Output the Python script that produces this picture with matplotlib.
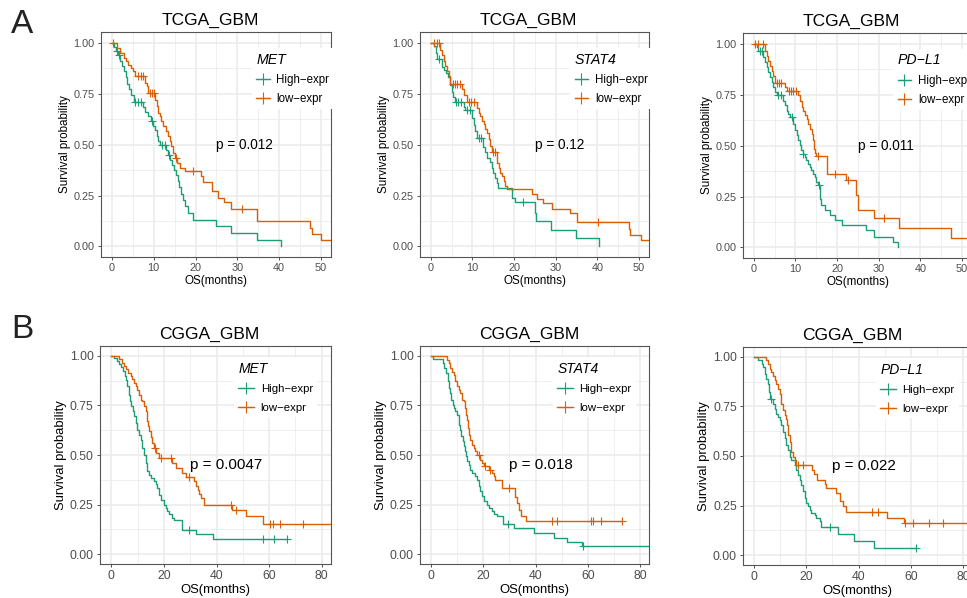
import numpy as np
import matplotlib
matplotlib.use('Agg')
import matplotlib.pyplot as plt
from matplotlib.lines import Line2D

plt.rcParams['font.family'] = ['Liberation Sans', 'DejaVu Sans']

# ---------------- dados ----------------
# TCGA_GBM  MET
tcga_met_hi_t = [0.6, 1.0, 1.4, 2.0, 2.5, 2.9, 3.3, 3.7, 4.1, 4.6, 5.2, 7.4, 8.0, 8.7, 9.3, 9.9, 10.3, 10.7, 11.1, 11.6,
                 13.0, 13.4, 13.8, 14.3, 14.8, 15.3, 15.7, 16.1, 16.6, 17.0, 17.5, 18.2, 19.3, 24.8, 28.6, 34.7, 40.4]
tcga_met_hi_s = [0.98, 0.96, 0.94, 0.91, 0.885, 0.86, 0.835, 0.80, 0.775, 0.745, 0.71, 0.685, 0.66, 0.64, 0.615, 0.59, 0.57, 0.545, 0.52, 0.50,
                 0.475, 0.45, 0.425, 0.40, 0.375, 0.35, 0.32, 0.29, 0.26, 0.23, 0.20, 0.165, 0.132, 0.10, 0.066, 0.033, 0.0]
tcga_met_hi_c = [1.3, 1.7, 5.6, 6.3, 7.0, 9.5, 12.0, 12.6, 13.6]
tcga_met_hi_end = 40.4
tcga_met_lo_t = [1.2, 2.0, 2.8, 3.4, 3.9, 4.5, 5.1, 5.5, 7.9, 8.3, 8.7, 10.3, 10.7, 11.1, 11.5, 11.8, 12.2, 13.0, 13.4, 13.8,
                 14.2, 14.6, 15.0, 15.6, 16.2, 17.4, 21.3, 21.9, 23.9, 25.3, 26.9, 28.4, 34.8, 47.4, 47.8, 50.0]
tcga_met_lo_s = [0.975, 0.951, 0.926, 0.91, 0.894, 0.878, 0.861, 0.837, 0.804, 0.788, 0.755, 0.722, 0.69, 0.657, 0.64, 0.616, 0.59, 0.567, 0.542, 0.518,
                 0.493, 0.461, 0.436, 0.41, 0.387, 0.37, 0.346, 0.319, 0.27, 0.24, 0.216, 0.186, 0.126, 0.093, 0.06, 0.033]
tcga_met_lo_c = [0.3, 6.3, 6.9, 7.5, 9.1, 9.6, 10.1, 15.3, 19.5, 31.0]
tcga_met_lo_end = 60

# TCGA_GBM  STAT4
tcga_stat4_hi_t = [0.7, 1.2, 1.6, 2.8, 3.2, 3.6, 4.2, 4.5, 4.7, 5.0, 5.3, 5.8, 7.9, 8.3, 9.9, 10.3, 10.7, 11.1, 12.6, 13.0,
                   13.4, 14.2, 14.6, 15.0, 15.4, 15.8, 16.2, 19.4, 20.2, 24.9, 25.3, 28.9, 34.8, 40.5]
tcga_stat4_hi_s = [0.984, 0.95, 0.92, 0.884, 0.867, 0.851, 0.835, 0.81, 0.794, 0.761, 0.736, 0.712, 0.687, 0.671, 0.63, 0.597, 0.565, 0.532, 0.49, 0.466,
                   0.434, 0.417, 0.385, 0.36, 0.335, 0.311, 0.286, 0.237, 0.22, 0.164, 0.125, 0.082, 0.041, 0.0]
tcga_stat4_hi_c = [2.0, 6.0, 6.6, 7.2, 8.7, 9.3, 11.6, 12.1, 22.1]
tcga_stat4_hi_end = 40.5
tcga_stat4_lo_t = [2.3, 2.7, 3.1, 3.5, 3.9, 4.3, 4.7, 7.5, 7.9, 8.7, 11.1, 11.5, 11.9, 12.3, 12.7, 13.1, 13.5, 13.9, 14.3, 14.7,
                   15.9, 16.3, 16.7, 17.1, 17.5, 17.9, 18.3, 24.2, 25.4, 27.0, 29.0, 33.5, 35.0, 47.5, 47.9, 50.5]
tcga_stat4_lo_s = [0.967, 0.94, 0.91, 0.886, 0.862, 0.838, 0.80, 0.775, 0.745, 0.71, 0.68, 0.657, 0.64, 0.616, 0.60, 0.575, 0.559, 0.526, 0.493, 0.465,
                   0.412, 0.387, 0.363, 0.346, 0.322, 0.297, 0.284, 0.258, 0.235, 0.212, 0.183, 0.165, 0.12, 0.085, 0.058, 0.03]
tcga_stat4_lo_c = [0.7, 1.4, 1.9, 5.3, 5.8, 6.4, 7.0, 9.2, 9.7, 10.3, 14.9, 15.4, 40.2]
tcga_stat4_lo_end = 60

# TCGA_GBM  PD-L1
tcga_pdl1_hi_t = [0.7, 1.1, 2.3, 2.7, 3.1, 3.5, 3.9, 4.3, 4.7, 5.1, 5.5, 7.1, 7.5, 7.9, 8.3, 8.7, 9.5, 9.9, 10.3, 10.7,
                  11.0, 11.4, 11.8, 12.2, 12.6, 13.0, 13.4, 13.8, 14.2, 14.6, 15.0, 15.4, 16.0, 16.2, 17.0, 18.2, 19.4, 21.2, 26.9, 28.9,
                  33.5, 34.7]
tcga_pdl1_hi_s = [0.984, 0.967, 0.935, 0.91, 0.886, 0.861, 0.837, 0.812, 0.788, 0.763, 0.747, 0.722, 0.698, 0.673, 0.657, 0.641, 0.608, 0.575, 0.551, 0.526,
                  0.502, 0.477, 0.461, 0.444, 0.428, 0.412, 0.395, 0.379, 0.363, 0.346, 0.322, 0.306, 0.24, 0.208, 0.183, 0.158, 0.134, 0.11, 0.085, 0.052,
                  0.028, 0.0]
tcga_pdl1_hi_c = [1.5, 1.9, 5.9, 6.5, 9.1, 11.9, 15.7]
tcga_pdl1_hi_end = 34.7
tcga_pdl1_lo_t = [2.7, 3.1, 3.5, 3.9, 4.3, 4.7, 5.1, 7.5, 7.9, 10.7, 11.1, 11.5, 11.9, 12.3, 12.7, 13.1, 13.5, 13.9, 14.3,
                  14.5, 14.8, 15.0, 17.6, 22.1, 24.6, 25.1, 28.8, 34.8, 47.3]
tcga_pdl1_lo_s = [0.967, 0.943, 0.918, 0.894, 0.869, 0.845, 0.81, 0.79, 0.77, 0.747, 0.722, 0.69, 0.673, 0.649, 0.632, 0.608, 0.583, 0.559, 0.526,
                  0.485, 0.465, 0.45, 0.363, 0.331, 0.257, 0.185, 0.143, 0.095, 0.048]
tcga_pdl1_lo_c = [0.3, 1.1, 2.3, 5.5, 6.0, 6.6, 8.4, 9.0, 9.5, 10.1, 15.3, 19.4, 22.5, 31.2]
tcga_pdl1_lo_end = 60

# CGGA_GBM  MET
cgga_met_hi_t = [1.0, 2.3, 3.0, 3.8, 4.6, 5.2, 5.5, 6.1, 6.7, 7.2, 7.6, 8.1, 8.6, 9.3, 9.9, 10.5, 11.2, 11.8, 12.4, 13.1,
                 13.7, 14.4, 15.0, 16.3, 16.9, 17.5, 18.2, 18.8, 20.1, 20.7, 21.3, 22.0, 23.2, 23.9, 27.0, 32.1, 38.5]
cgga_met_hi_s = [0.988, 0.975, 0.96, 0.945, 0.925, 0.90, 0.879, 0.846, 0.804, 0.775, 0.745, 0.72, 0.695, 0.661, 0.628, 0.602, 0.577, 0.535, 0.502, 0.46,
                 0.418, 0.40, 0.385, 0.37, 0.355, 0.334, 0.30, 0.275, 0.25, 0.233, 0.216, 0.20, 0.183, 0.174, 0.124, 0.099, 0.074]
cgga_met_hi_c = [29.6, 57.5, 62.0, 66.8]
cgga_met_hi_end = 66.8
cgga_met_lo_t = [2.9, 4.2, 4.8, 5.5, 6.3, 7.4, 8.0, 8.6, 9.3, 9.9, 10.5, 11.2, 11.8, 12.4, 13.1, 13.4, 13.7, 14.0, 14.3, 15.0,
                 15.6, 16.3, 16.9, 18.0, 23.2, 24.5, 27.0, 28.5, 31.5, 32.3, 32.8, 33.4, 34.0, 35.3, 46.0, 51.3, 57.7]
cgga_met_lo_s = [0.983, 0.966, 0.949, 0.932, 0.915, 0.898, 0.881, 0.864, 0.847, 0.83, 0.805, 0.78, 0.77, 0.745, 0.72, 0.695, 0.67, 0.645, 0.62, 0.59,
                 0.56, 0.535, 0.51, 0.483, 0.458, 0.433, 0.41, 0.39, 0.367, 0.345, 0.325, 0.305, 0.285, 0.248, 0.223, 0.19, 0.153]
cgga_met_lo_c = [16.6, 18.8, 22.6, 29.6, 45.5, 47.5, 60.5, 61.3, 64.1, 72.7]
cgga_met_lo_end = 90

# CGGA_GBM  STAT4
cgga_stat4_hi_t = [0.5, 4.4, 5.0, 5.6, 6.3, 6.9, 7.3, 7.7, 8.2, 8.8, 9.2, 9.9, 10.5, 10.8, 11.2, 11.5, 12.1, 12.4, 12.8, 13.3,
                   13.8, 14.4, 15.0, 15.6, 16.7, 17.6, 18.2, 18.8, 19.5, 20.1, 21.4, 22.1, 23.3, 24.0, 25.3, 27.5, 31.7, 39.4, 47.1, 52.2,
                   58.0]
cgga_stat4_hi_s = [0.983, 0.963, 0.938, 0.913, 0.871, 0.837, 0.812, 0.779, 0.753, 0.737, 0.72, 0.703, 0.678, 0.653, 0.628, 0.594, 0.569, 0.544, 0.518, 0.493,
                   0.468, 0.451, 0.426, 0.409, 0.393, 0.376, 0.342, 0.317, 0.292, 0.267, 0.25, 0.233, 0.216, 0.20, 0.191, 0.15, 0.13, 0.107, 0.082, 0.062,
                   0.04]
cgga_stat4_hi_c = [29.4, 58.3]
cgga_stat4_hi_end = 90
cgga_stat4_lo_t = [6.2, 6.9, 7.3, 7.9, 8.6, 9.2, 9.9, 10.5, 11.2, 11.8, 12.4, 13.1, 13.3, 13.7, 14.1, 14.4, 15.0, 15.6, 16.3, 16.9,
                   17.6, 18.8, 19.5, 20.1, 22.1, 23.3, 24.0, 24.6, 27.2, 32.3, 33.0, 33.7, 34.4, 36.2]
cgga_stat4_lo_s = [0.98, 0.963, 0.938, 0.921, 0.904, 0.871, 0.846, 0.829, 0.812, 0.779, 0.77, 0.737, 0.703, 0.678, 0.636, 0.602, 0.577, 0.552, 0.535, 0.518,
                   0.502, 0.477, 0.46, 0.443, 0.426, 0.409, 0.393, 0.376, 0.334, 0.29, 0.257, 0.223, 0.19, 0.165]
cgga_stat4_lo_c = [18.2, 20.8, 22.7, 29.7, 46.4, 48.3, 61.4, 62.2, 65.0, 73.3]
cgga_stat4_lo_end = 73.3

# CGGA_GBM  PD-L1
cgga_pdl1_hi_t = [1.5, 2.8, 3.4, 4.1, 4.7, 5.3, 5.6, 6.0, 7.3, 7.9, 8.5, 9.2, 9.8, 10.4, 11.1, 11.7, 12.3, 13.0, 13.6, 14.2,
                  15.5, 16.2, 16.8, 17.4, 18.1, 18.7, 19.3, 20.0, 20.6, 21.2, 21.9, 23.2, 23.8, 25.1, 25.7, 32.1, 38.4, 46.1]
cgga_pdl1_hi_s = [0.982, 0.965, 0.948, 0.915, 0.89, 0.865, 0.823, 0.789, 0.764, 0.739, 0.714, 0.697, 0.681, 0.656, 0.622, 0.589, 0.555, 0.53, 0.497, 0.48,
                  0.455, 0.43, 0.405, 0.38, 0.355, 0.321, 0.288, 0.263, 0.246, 0.229, 0.212, 0.204, 0.187, 0.171, 0.14, 0.104, 0.07, 0.037]
cgga_pdl1_hi_c = [6.6, 28.9, 62.0]
cgga_pdl1_hi_end = 62.0
cgga_pdl1_lo_t = [4.7, 5.3, 6.0, 6.6, 7.3, 7.9, 8.5, 9.2, 9.8, 10.4, 11.1, 11.7, 12.3, 12.7, 13.0, 13.6, 14.2, 14.9, 15.5, 16.2,
                  22.0, 22.8, 24.0, 27.0, 27.4, 31.4, 32.7, 34.0, 35.2, 51.1, 57.5]
cgga_pdl1_lo_s = [0.982, 0.965, 0.94, 0.923, 0.906, 0.881, 0.865, 0.839, 0.814, 0.764, 0.731, 0.706, 0.689, 0.656, 0.605, 0.572, 0.522, 0.497, 0.48, 0.455,
                  0.43, 0.41, 0.38, 0.36, 0.338, 0.313, 0.271, 0.246, 0.215, 0.187, 0.16]
cgga_pdl1_lo_c = [16.6, 18.6, 45.0, 47.6, 57.8, 61.0, 67.0, 72.4]
cgga_pdl1_lo_end = 90

genes = ['MET', 'STAT4', 'PD−L1']
pvals_tcga = ['p = 0.012', 'p = 0.12', 'p = 0.011']
pvals_cgga = ['p = 0.0047', 'p = 0.018', 'p = 0.022']
grupos = ['High−expr', 'low−expr']
cores = ['#1B9E77', '#D95F02']

# ---------------- desenho ----------------
W, H = 967, 598
fig = plt.figure(figsize=(W / 100, H / 100), dpi=100)

def caixa(l, t, w, h):
    return [l / W, 1 - (t + h) / H, w / W, h / H]

def curva(ax, t, s, c, fim, cor):
    xs = np.r_[0, t, fim]
    ys = np.r_[1, s, s[-1]]
    ax.step(xs, ys, where='post', color=cor, lw=1.0, clip_on=True)
    idx = np.searchsorted(np.array(t), np.array(c), side='right') - 1
    yc = np.where(idx >= 0, np.array(s)[np.clip(idx, 0, None)], 1.0)
    ax.plot(c, yc, ls='none', marker='+', ms=6, mew=0.8, color=cor)

def painel(ax, titulo, gene, pval, hi, lo, linha):
    if linha == 'A':
        xl, xt, fs_tick, fs_lab, fs_p, pxy = (-2.6, 52.4), np.arange(0, 51, 10), 7.8, 8.4, 9.8, (25, 0.5)
        ylim = (-0.052, 1.054)
        anc, fs_leg, fs_tit, lsp, hl = (0.63, 0.955), 8.3, 10.2, 0.62, 1.15
    else:
        xl, xt, fs_tick, fs_lab, fs_p, pxy = (-4.3, 83.5), np.arange(0, 81, 20), 8.8, 9.4, 11, (30, 0.45)
        ylim = (-0.05, 1.05)
        anc, fs_leg, fs_tit, lsp, hl = (0.555, 0.975), 8.2, 10, 0.75, 1.35
    ax.set_xlim(xl)
    ax.set_ylim(ylim)
    ax.set_xticks(xt)
    ax.set_xticks(xt[:-1] + (xt[1] - xt[0]) / 2, minor=True)
    yt = np.arange(0, 1.01, 0.25)
    ax.set_yticks(yt)
    ax.set_yticklabels(['%.2f' % v for v in yt])
    ax.set_yticks(yt[:-1] + 0.125, minor=True)
    ax.grid(which='major', color='#EBEBEB', lw=1.1)
    ax.grid(which='minor', color='#EBEBEB', lw=0.55)
    ax.set_axisbelow(True)
    for sp in ax.spines.values():
        sp.set_color('#555555')
        sp.set_linewidth(0.8)
    ax.tick_params(which='major', length=2.5, width=0.6, color='#333333', labelcolor='#4D4D4D',
                   labelsize=fs_tick, pad=2)
    ax.tick_params(which='minor', length=0)

    curva(ax, hi[0], hi[1], hi[2], hi[3], cores[0])
    curva(ax, lo[0], lo[1], lo[2], lo[3], cores[1])

    ax.set_xlabel('OS(months)', fontsize=fs_lab, labelpad=1)
    ax.set_ylabel('Survival probability', fontsize=fs_lab, labelpad=2)
    ax.set_title(titulo, fontsize=12.5, x=0.475, pad=5)
    ax.text(pxy[0], pxy[1], pval, fontsize=fs_p, ha='left', va='center', color='black')

    hs = [Line2D([], [], color=cores[0], lw=1.0, marker='+', ms=8, mew=0.8),
          Line2D([], [], color=cores[1], lw=1.0, marker='+', ms=8, mew=0.8)]
    leg = ax.legend(hs, grupos, title=gene, loc='upper left', bbox_to_anchor=anc, frameon=True,
                    facecolor='white', edgecolor='none', framealpha=1, fancybox=False,
                    fontsize=fs_leg, handlelength=hl, handletextpad=0.6, labelspacing=lsp,
                    borderpad=0.4, alignment='left')
    leg.get_title().set_fontsize(fs_tit)
    leg.get_title().set_fontstyle('italic')

dados_tcga = [
    ((tcga_met_hi_t, tcga_met_hi_s, tcga_met_hi_c, tcga_met_hi_end), (tcga_met_lo_t, tcga_met_lo_s, tcga_met_lo_c, tcga_met_lo_end)),
    ((tcga_stat4_hi_t, tcga_stat4_hi_s, tcga_stat4_hi_c, tcga_stat4_hi_end), (tcga_stat4_lo_t, tcga_stat4_lo_s, tcga_stat4_lo_c, tcga_stat4_lo_end)),
    ((tcga_pdl1_hi_t, tcga_pdl1_hi_s, tcga_pdl1_hi_c, tcga_pdl1_hi_end), (tcga_pdl1_lo_t, tcga_pdl1_lo_s, tcga_pdl1_lo_c, tcga_pdl1_lo_end)),
]
dados_cgga = [
    ((cgga_met_hi_t, cgga_met_hi_s, cgga_met_hi_c, cgga_met_hi_end), (cgga_met_lo_t, cgga_met_lo_s, cgga_met_lo_c, cgga_met_lo_end)),
    ((cgga_stat4_hi_t, cgga_stat4_hi_s, cgga_stat4_hi_c, cgga_stat4_hi_end), (cgga_stat4_lo_t, cgga_stat4_lo_s, cgga_stat4_lo_c, cgga_stat4_lo_end)),
    ((cgga_pdl1_hi_t, cgga_pdl1_hi_s, cgga_pdl1_hi_c, cgga_pdl1_hi_end), (cgga_pdl1_lo_t, cgga_pdl1_lo_s, cgga_pdl1_lo_c, cgga_pdl1_lo_end)),
]

caixas_A = [(101, 32, 230, 225), (420, 32, 229, 225), (743, 33, 229, 225)]
caixas_B = [(100, 346, 231, 218), (420, 346, 229, 218), (743, 347, 229, 218)]

for i in range(3):
    ax = fig.add_axes(caixa(*caixas_A[i]))
    painel(ax, 'TCGA_GBM', genes[i], pvals_tcga[i], dados_tcga[i][0], dados_tcga[i][1], 'A')
    ax = fig.add_axes(caixa(*caixas_B[i]))
    painel(ax, 'CGGA_GBM', genes[i], pvals_cgga[i], dados_cgga[i][0], dados_cgga[i][1], 'B')

fig.text(11 / W, 1 - 33 / H, 'A', fontsize=24, color='#222222', va='baseline')
fig.text(11 / W, 1 - 338 / H, 'B', fontsize=24, color='#222222', va='baseline')

fig.savefig('out.png', dpi=100)
